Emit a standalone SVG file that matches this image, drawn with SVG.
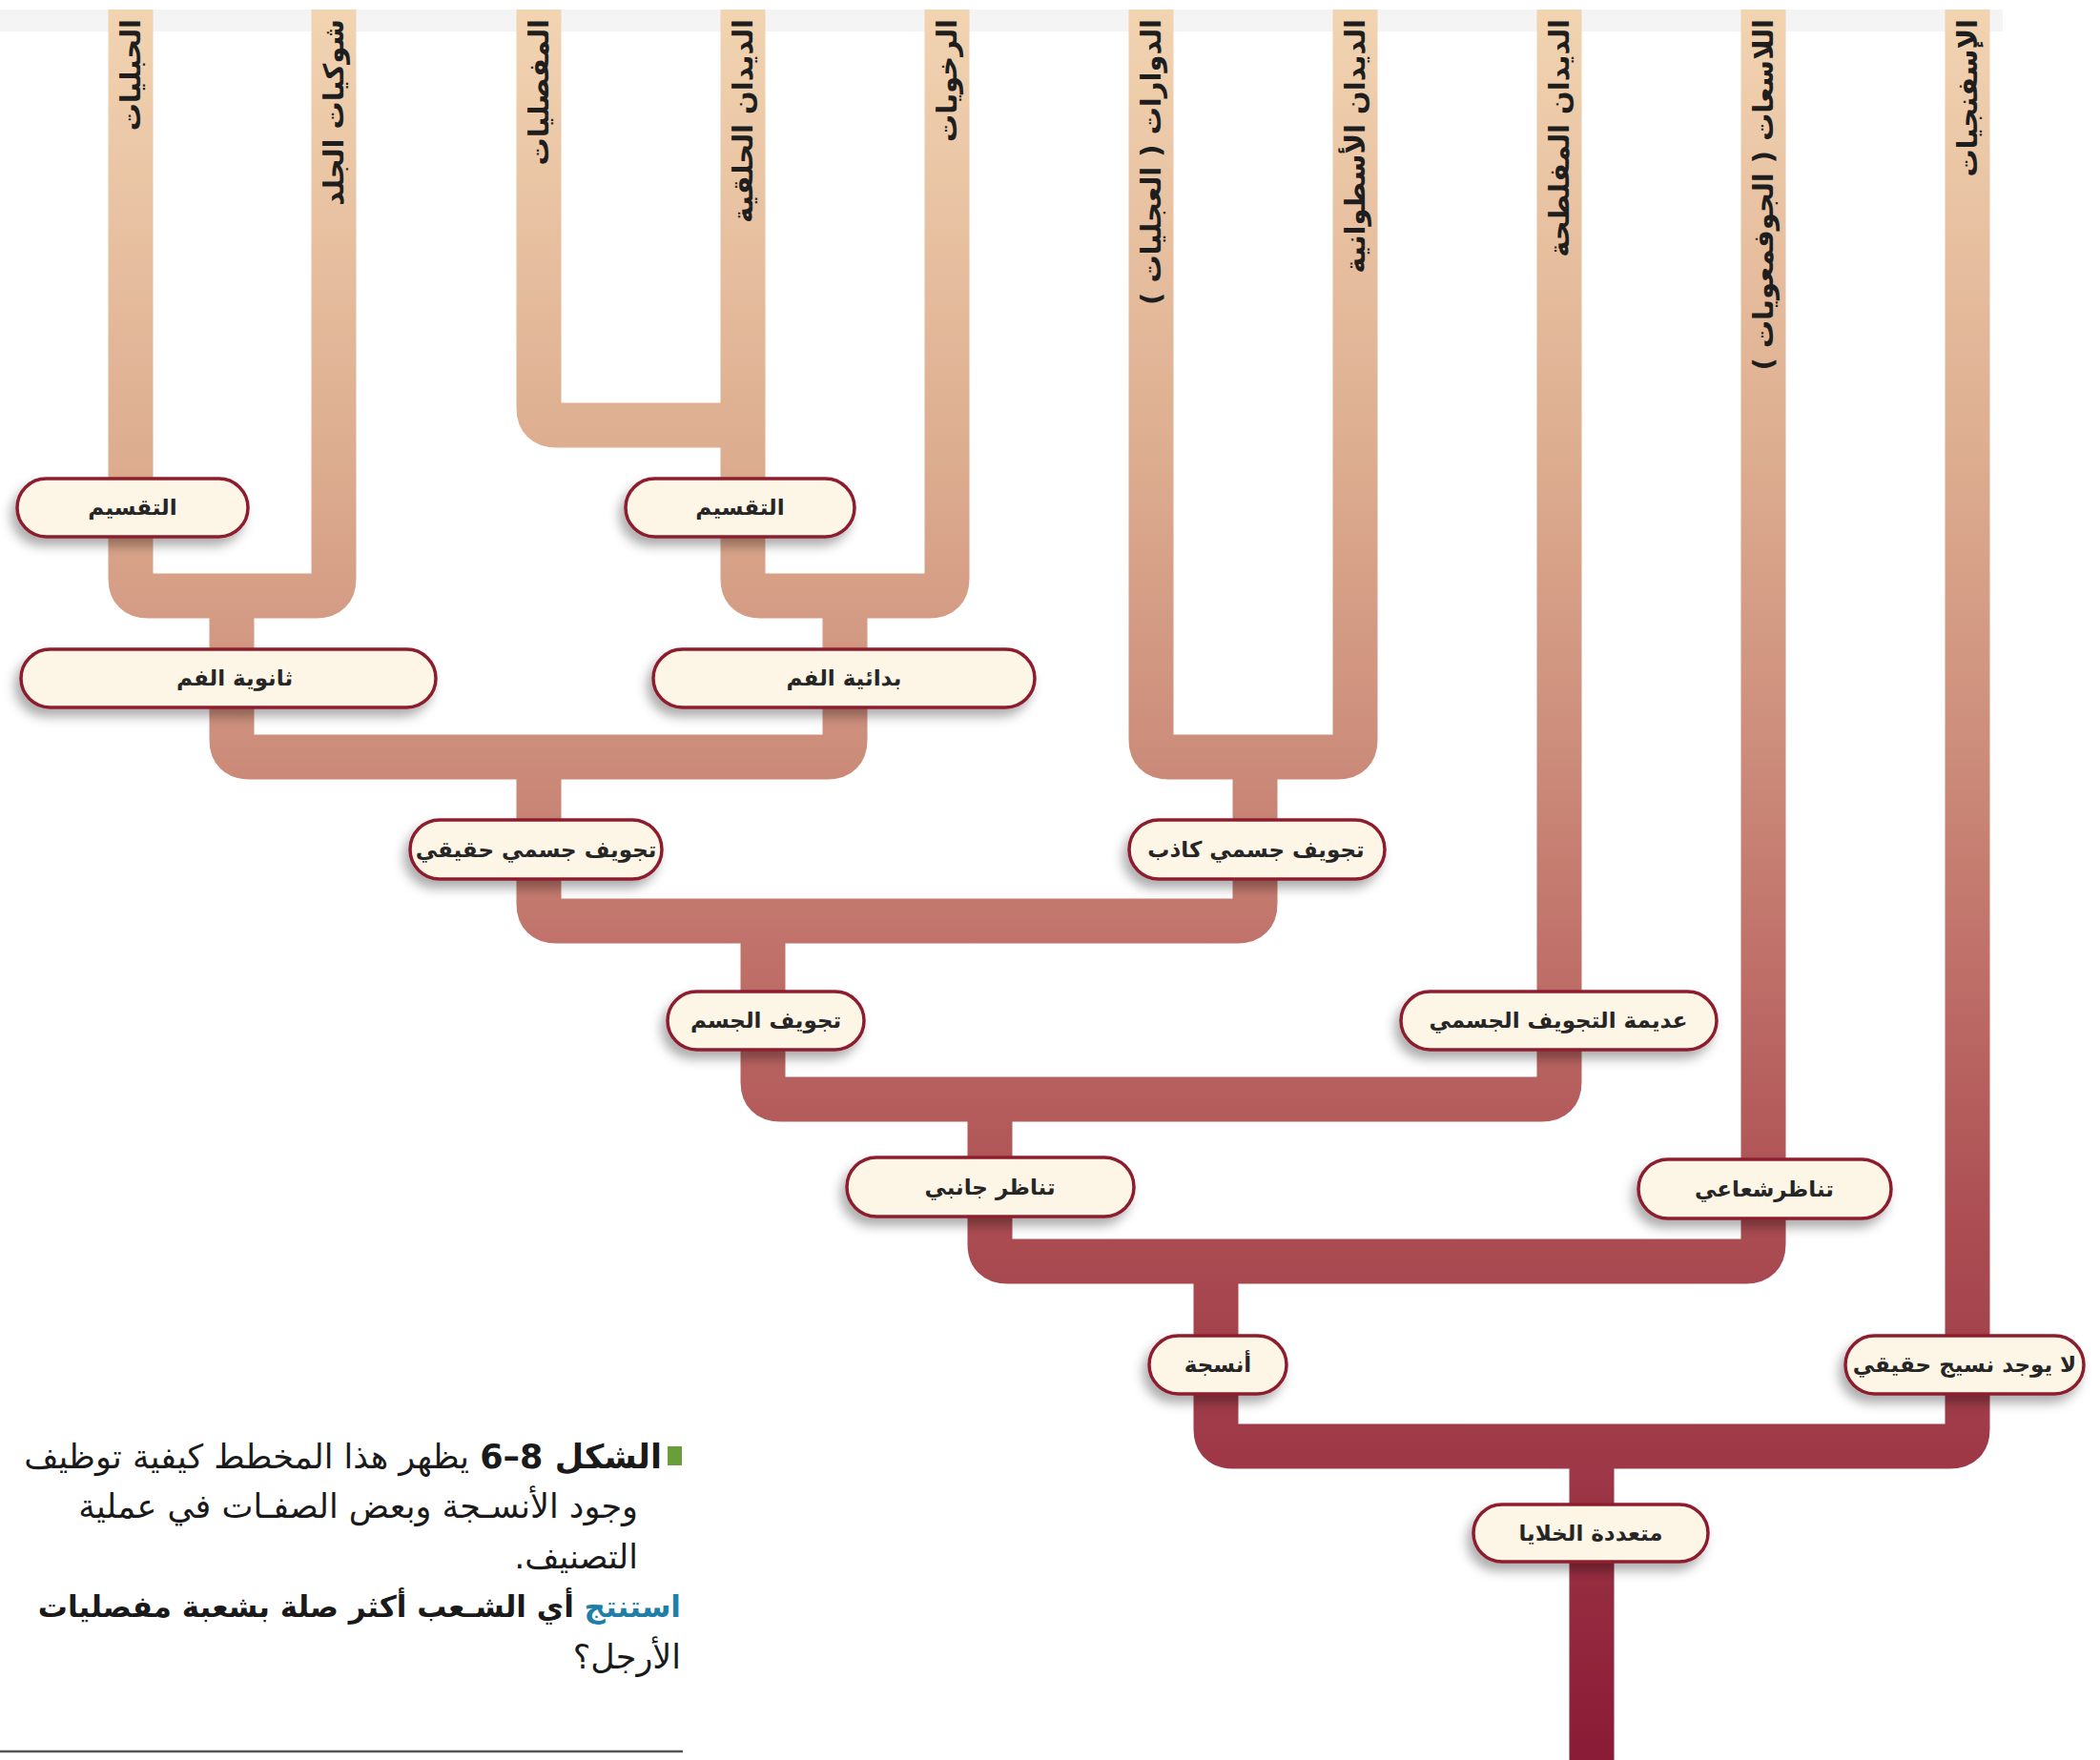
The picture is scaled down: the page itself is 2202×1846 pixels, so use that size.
<svg xmlns="http://www.w3.org/2000/svg" width="2202" height="1846" viewBox="0 0 2202 1846">
<defs>
<linearGradient id="branchGrad" gradientUnits="userSpaceOnUse" x1="0" y1="0" x2="0" y2="1846">
<stop offset="0" stop-color="#f2d5b2"/>
<stop offset="0.27" stop-color="#dcab8e"/>
<stop offset="0.43" stop-color="#cc8c7a"/>
<stop offset="0.55" stop-color="#bf6f68"/>
<stop offset="0.70" stop-color="#ab4c52"/>
<stop offset="0.84" stop-color="#9d3646"/>
<stop offset="1" stop-color="#8a1b36"/>
</linearGradient>
<filter id="shadow" x="-20%" y="-40%" width="140%" height="190%">
<feDropShadow dx="-5" dy="8" stdDeviation="6" flood-color="#000" flood-opacity="0.32"/>
</filter>
</defs>
<style>
.br{fill:none;stroke:url(#branchGrad);stroke-width:47;stroke-linecap:butt;stroke-linejoin:round}
.box{fill:#fdf5e5;stroke:#8c1f2e;stroke-width:3.5;filter:url(#shadow)}
.nt{font-family:'DejaVu Sans',sans-serif;font-weight:bold;font-size:23px;fill:#262626;text-anchor:middle;dominant-baseline:central}
.vt{font-family:'DejaVu Sans',sans-serif;font-weight:bold;font-size:29px;fill:#1e1e1e;text-anchor:start;dominant-baseline:central}
.cap{font-family:'DejaVu Sans',sans-serif;font-size:35px;fill:#1a1a1a;text-anchor:start}
.cap4{font-family:'DejaVu Sans',sans-serif;font-size:31px;font-weight:bold;fill:#1a1a1a;text-anchor:start}
</style>
<rect x="0" y="10" width="2100" height="23" fill="#f4f4f4"/>
<g id="connectors">
<path class="br" d="M137,10 V607 Q137,625 155,625 H332 Q350,625 350,607 V10"/>
<path class="br" d="M565,10 V428 Q565,446 583,446 H779"/>
<path class="br" d="M779,10 V607 Q779,625 797,625 H975 Q993,625 993,607 V10"/>
<path class="br" d="M243,625 V776 Q243,794 261,794 H868 Q886,794 886,776 V625"/>
<path class="br" d="M1207,10 V776 Q1207,794 1225,794 H1403 Q1421,794 1421,776 V10"/>
<path class="br" d="M565,794 V948 Q565,966 583,966 H1298 Q1316,966 1316,948 V794"/>
<path class="br" d="M800,966 V1135 Q800,1153 818,1153 H1617 Q1635,1153 1635,1135 V10"/>
<path class="br" d="M1038,1153 V1305 Q1038,1323 1056,1323 H1831 Q1849,1323 1849,1305 V10"/>
<path class="br" d="M1275,1323 V1499 Q1275,1517 1293,1517 H2045 Q2063,1517 2063,1499 V10"/>
<path class="br" d="M1669,1517 V1850"/>
</g>
<g id="leaf-labels">
<text class="vt" direction="rtl" transform="translate(137,20) rotate(-90)">الحبليات</text>
<text class="vt" direction="rtl" transform="translate(350,20) rotate(-90)">شوكيات الجلد</text>
<text class="vt" direction="rtl" transform="translate(565,20) rotate(-90)">المفصليات</text>
<text class="vt" direction="rtl" transform="translate(779,20) rotate(-90)">الديدان الحلقية</text>
<text class="vt" direction="rtl" transform="translate(993,20) rotate(-90)">الرخويات</text>
<text class="vt" direction="rtl" transform="translate(1207,20) rotate(-90)">الدوارات ( العجليات )</text>
<text class="vt" direction="rtl" transform="translate(1421,20) rotate(-90)">الديدان الأسطوانية</text>
<text class="vt" direction="rtl" transform="translate(1635,20) rotate(-90)">الديدان المفلطحة</text>
<text class="vt" direction="rtl" transform="translate(1849,20) rotate(-90)">اللاسعات ( الجوفمعويات )</text>
<text class="vt" direction="rtl" transform="translate(2063,20) rotate(-90)">الإسفنجيات</text>
</g>
<g id="node-segmentation-1"><rect class="box" x="18" y="502" width="242" height="61" rx="30.5"/><text class="nt" x="139" y="532">التقسيم</text></g>
<g id="node-segmentation-2"><rect class="box" x="656" y="502" width="240" height="61" rx="30.5"/><text class="nt" x="776" y="532">التقسيم</text></g>
<g id="node-deuterostome"><rect class="box" x="22" y="681" width="435" height="61" rx="30.5"/><text class="nt" x="246" y="711">ثانوية الفم</text></g>
<g id="node-protostome"><rect class="box" x="685" y="681" width="400" height="61" rx="30.5"/><text class="nt" x="885" y="711">بدائية الفم</text></g>
<g id="node-true-coelom"><rect class="box" x="430" y="860" width="264" height="62" rx="31"/><text class="nt" x="562" y="891">تجويف جسمي حقيقي</text></g>
<g id="node-pseudocoelom"><rect class="box" x="1184" y="860" width="268" height="62" rx="31"/><text class="nt" x="1317" y="891">تجويف جسمي كاذب</text></g>
<g id="node-coelom"><rect class="box" x="700" y="1040" width="206" height="61" rx="30.5"/><text class="nt" x="803" y="1070">تجويف الجسم</text></g>
<g id="node-acoelomate"><rect class="box" x="1469" y="1040" width="331" height="61" rx="30.5"/><text class="nt" x="1634" y="1070">عديمة التجويف الجسمي</text></g>
<g id="node-bilateral"><rect class="box" x="888" y="1214" width="301" height="62" rx="31"/><text class="nt" x="1038" y="1245">تناظر جانبي</text></g>
<g id="node-radial"><rect class="box" x="1718" y="1216" width="265" height="62" rx="31"/><text class="nt" x="1850" y="1247">تناظرشعاعي</text></g>
<g id="node-tissues"><rect class="box" x="1205" y="1401" width="144" height="61" rx="30.5"/><text class="nt" x="1277" y="1431">أنسجة</text></g>
<g id="node-no-tissues"><rect class="box" x="1935" y="1401" width="250" height="61" rx="30.5"/><text class="nt" x="2060" y="1431">لا يوجد نسيج حقيقي</text></g>
<g id="node-multicellular"><rect class="box" x="1545" y="1578" width="246" height="60" rx="30"/><text class="nt" x="1668" y="1608">متعددة الخلايا</text></g>
<g id="caption">
<rect x="700" y="1517" width="15" height="20" fill="#6a9e3a"/>
<text class="cap" direction="rtl" x="694" y="1540"><tspan font-weight="bold">الشكل 8–6</tspan> يظهر هذا المخطط كيفية توظيف</text>
<text class="cap" direction="rtl" x="669" y="1592">وجود الأنسـجة وبعض الصفـات في عملية</text>
<text class="cap" direction="rtl" x="669" y="1645">التصنيف.</text>
<text class="cap4" direction="rtl" x="714" y="1696"><tspan fill="#1f7fa6">استنتج</tspan> أي الشـعب أكثر صلة بشعبة مفصليات</text>
<text class="cap" direction="rtl" x="714" y="1750">الأرجل؟</text>
<line x1="0" y1="1837" x2="716" y2="1837" stroke="#555" stroke-width="2.5"/>
</g>
</svg>
